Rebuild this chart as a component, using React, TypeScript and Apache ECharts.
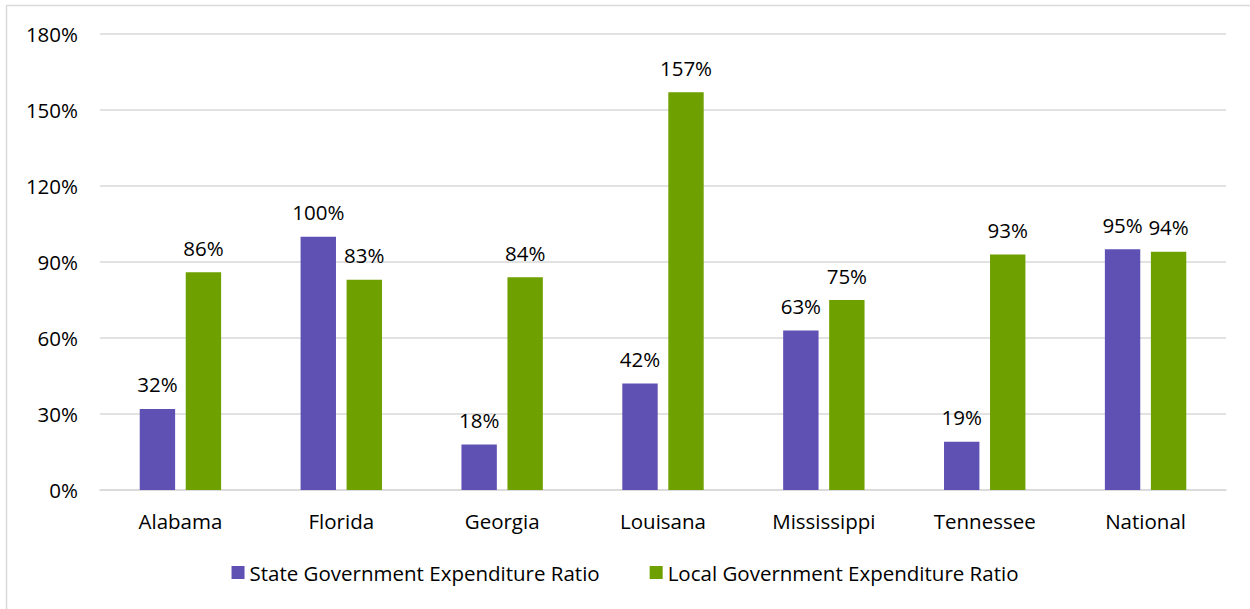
import React, { useEffect, useRef } from "react";
import * as echarts from "echarts";

const categories = ["Alabama", "Florida", "Georgia", "Louisana", "Mississippi", "Tennessee", "National"];
const stateRatio = [32, 100, 18, 42, 63, 19, 95];
const localRatio = [86, 83, 84, 157, 75, 93, 94];
const seriesNames = ["State Government Expenditure Ratio", "Local Government Expenditure Ratio"];
const yMin = 0;
const yMax = 180;
const yInterval = 30;

const FONT = "'Open Sans', 'Noto Sans', sans-serif";

export default function App() {
  const ref = useRef<HTMLDivElement>(null);
  useEffect(() => {
    if (!ref.current) return;
    const chart = echarts.init(ref.current, undefined, { renderer: "svg" });
    const label = {
      show: true,
      position: "top" as const,
      distance: 14,
      formatter: (p: any) => `${p.value}%`,
      color: "#000",
      fontSize: 20.5,
      fontFamily: FONT,
    };
    chart.setOption({
      animation: false,
      backgroundColor: "#fff",
      textStyle: { fontFamily: FONT },
      graphic: [
        {
          type: "rect",
          shape: { x: 6.5, y: 5.5, width: 1300, height: 700 },
          style: { fill: "none", stroke: "#d9d9d9", lineWidth: 1.5 },
          silent: true,
        },
      ],
      grid: { left: 100, right: 24, top: 34, bottom: 119, containLabel: false },
      legend: {
        bottom: 21,
        left: "center",
        itemWidth: 13,
        itemHeight: 13,
        itemGap: 50,
        icon: "rect",
        textStyle: { fontSize: 20.5, color: "#000", fontFamily: FONT },
        data: seriesNames,
      },
      xAxis: {
        type: "category",
        data: categories,
        axisTick: { show: false },
        axisLine: { show: true, lineStyle: { color: "#d9d9d9", width: 1.5 } },
        axisLabel: { fontSize: 20.5, color: "#000", margin: 20, fontFamily: FONT },
      },
      yAxis: {
        type: "value",
        min: yMin,
        max: yMax,
        interval: yInterval,
        axisLabel: { formatter: "{value}%", fontSize: 20.5, color: "#000", margin: 22, fontFamily: FONT },
        splitLine: { lineStyle: { color: "#d9d9d9", width: 1.5 } },
        axisLine: { show: false },
        axisTick: { show: false },
      },
      series: [
        {
          name: seriesNames[0],
          type: "bar",
          data: stateRatio,
          barWidth: "22%",
          barGap: "30%",
          itemStyle: { color: "#5f50b4" },
          label,
        },
        {
          name: seriesNames[1],
          type: "bar",
          data: localRatio,
          barWidth: "22%",
          itemStyle: { color: "#6ea000" },
          label,
        },
      ],
    });
    return () => chart.dispose();
  }, []);
  return (
    <div
      ref={ref}
      style={{ position: "absolute", left: 0, top: 0, width: 1250, height: 609 }}
    />
  );
}
